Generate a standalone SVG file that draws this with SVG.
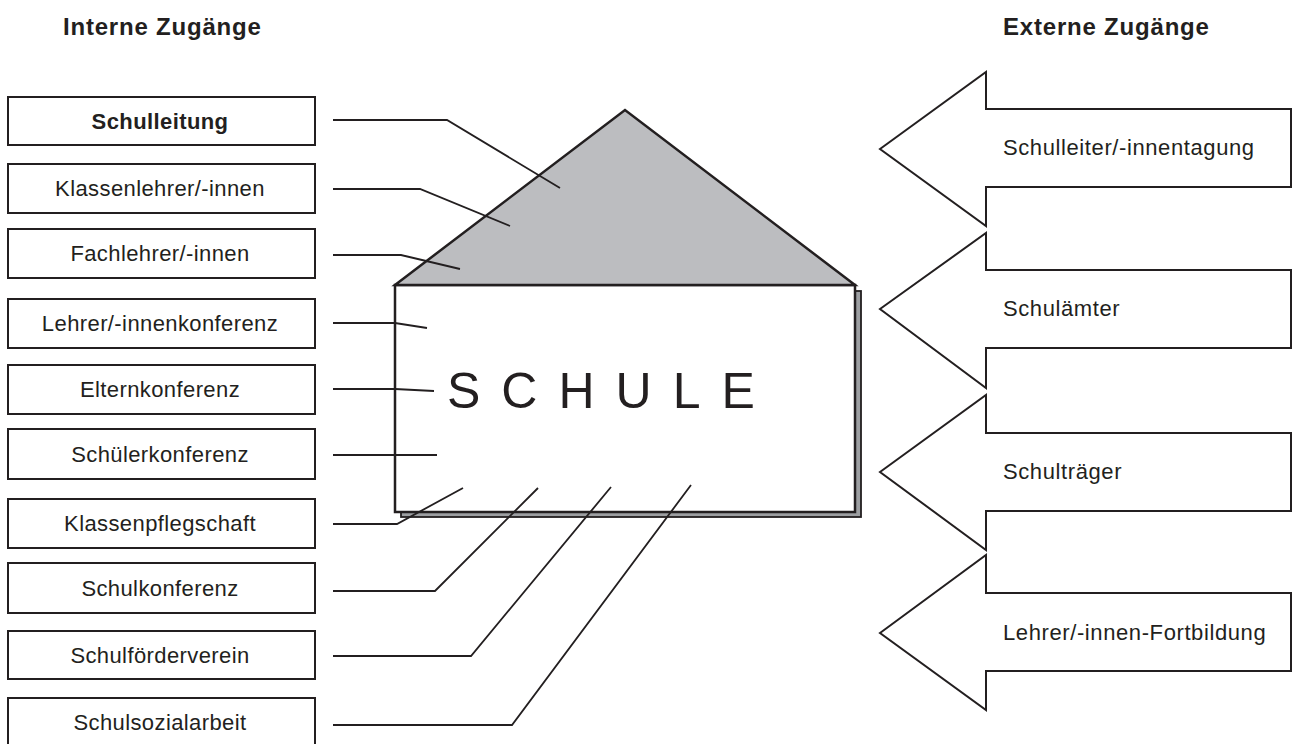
<svg xmlns="http://www.w3.org/2000/svg" width="1294" height="744" viewBox="0 0 1294 744">
<style>
.hdr{font-family:"Liberation Sans",Arial,sans-serif;font-weight:bold;font-size:24px;letter-spacing:0.8px;fill:#231f20}
.box{fill:#fff;stroke:#231f20;stroke-width:2}
.lbl{font-family:"Liberation Sans",Arial,sans-serif;font-size:22px;letter-spacing:0.4px;fill:#231f20;text-anchor:middle}
.rlbl{font-family:"Liberation Sans",Arial,sans-serif;font-size:22px;letter-spacing:0.6px;fill:#231f20}
.ln{fill:none;stroke:#231f20;stroke-width:1.8;stroke-linejoin:miter}
.arr{fill:#fff;stroke:#231f20;stroke-width:2;stroke-linejoin:miter}
</style>
<rect width="1294" height="744" fill="#fff"/>
<text class="hdr" x="63" y="35">Interne Zugänge</text>
<text class="hdr" x="1003" y="35">Externe Zugänge</text>

<g id="schule">
<rect x="401" y="291" width="460" height="226" fill="#9d9fa2" stroke="#231f20" stroke-width="1.8"/>
<rect x="395" y="285" width="460" height="227" fill="#fff" stroke="#231f20" stroke-width="2.5"/>
<polygon points="395,285 625,110 855,285" fill="#bcbdc0" stroke="#231f20" stroke-width="2.5" stroke-linejoin="miter"/>
<text x="447" y="408" font-family="'Liberation Sans',Arial,sans-serif" font-size="50" letter-spacing="21" fill="#231f20">SCHULE</text>
</g>

<g id="n1"><rect class="box" x="8" y="97" width="307" height="48"/><text class="lbl" x="160" y="129" font-weight="bold">Schulleitung</text></g>
<g id="n2"><rect class="box" x="8" y="164" width="307" height="49"/><text class="lbl" x="160" y="196">Klassenlehrer/-innen</text></g>
<g id="n3"><rect class="box" x="8" y="229" width="307" height="49"/><text class="lbl" x="160" y="261">Fachlehrer/-innen</text></g>
<g id="n4"><rect class="box" x="8" y="299" width="307" height="49"/><text class="lbl" x="160" y="331">Lehrer/-innenkonferenz</text></g>
<g id="n5"><rect class="box" x="8" y="365" width="307" height="49"/><text class="lbl" x="160" y="397">Elternkonferenz</text></g>
<g id="n6"><rect class="box" x="8" y="429" width="307" height="50"/><text class="lbl" x="160" y="462">Schülerkonferenz</text></g>
<g id="n7"><rect class="box" x="8" y="499" width="307" height="49"/><text class="lbl" x="160" y="531">Klassenpflegschaft</text></g>
<g id="n8"><rect class="box" x="8" y="563" width="307" height="50"/><text class="lbl" x="160" y="596">Schulkonferenz</text></g>
<g id="n9"><rect class="box" x="8" y="631" width="307" height="48"/><text class="lbl" x="160" y="663">Schulförderverein</text></g>
<g id="n10"><rect class="box" x="8" y="698" width="307" height="48"/><text class="lbl" x="160" y="730">Schulsozialarbeit</text></g>

<g id="connectors">
<polyline class="ln" points="333,120 447,120 560,188"/>
<polyline class="ln" points="333,189 420,189 510,226"/>
<polyline class="ln" points="333,255 401,255 460,269"/>
<polyline class="ln" points="333,323 395,323 427,328"/>
<polyline class="ln" points="333,389 395,389 434,391"/>
<polyline class="ln" points="333,455 437,455"/>
<polyline class="ln" points="333,524 397,524 463,488"/>
<polyline class="ln" points="333,591 435,591 538,488"/>
<polyline class="ln" points="333,656 471,656 611,487"/>
<polyline class="ln" points="333,725 512,725 691,485"/>
</g>

<g id="e1"><polygon class="arr" points="880,149 986,72 986,109 1291,109 1291,187 986,187 986,226"/><text class="rlbl" x="1003" y="155">Schulleiter/-innentagung</text></g>
<g id="e2"><polygon class="arr" points="880,309 986,233 986,270 1291,270 1291,348 986,348 986,388"/><text class="rlbl" x="1003" y="316">Schulämter</text></g>
<g id="e3"><polygon class="arr" points="880,472 986,395 986,433 1291,433 1291,511 986,511 986,550"/><text class="rlbl" x="1003" y="479">Schulträger</text></g>
<g id="e4"><polygon class="arr" points="880,633 986,555 986,593 1291,593 1291,671 986,671 986,710"/><text class="rlbl" x="1003" y="640">Lehrer/-innen-Fortbildung</text></g>
</svg>
